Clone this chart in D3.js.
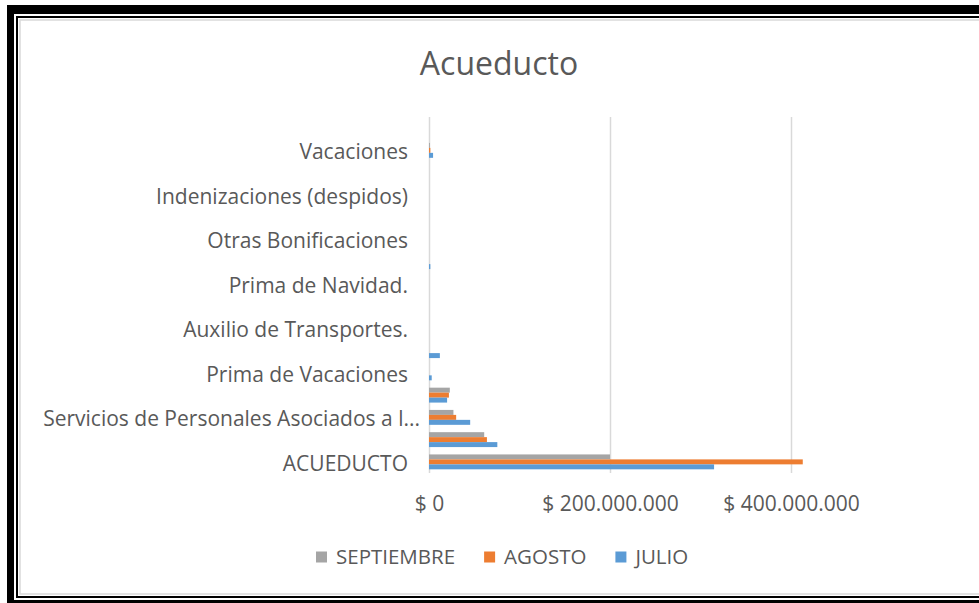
<!DOCTYPE html>
<html>
<head>
<meta charset="utf-8">
<script src="https://cdn.jsdelivr.net/npm/d3@7"></script>
<style>
    body { margin: 0; background: #fff; }
    svg text { font-family: "Open Sans", sans-serif; fill: #595959; }
</style>
</head>
<body>
<div id="chart"></div>
<script>
// categories from bottom to top, as Excel lists them
const categories = [
    "ACUEDUCTO",
    "Sueldos de Personal de Nómina",
    "Servicios de Personales Asociados a la Nómina",
    "Contribuciones Inherentes a la Nómina",
    "Prima de Vacaciones",
    "Prima de Servicios",
    "Auxilio de Transportes.",
    "Subsidio de Alimentación.",
    "Prima de Navidad.",
    "Horas Extras y Festivos",
    "Otras Bonificaciones",
    "Bonificación Especial de Recreación",
    "Indenizaciones (despidos)",
    "Indemnización por Vacaciones",
    "Vacaciones",
    "Otros"
]
const seriesNames = ["SEPTIEMBRE", "AGOSTO", "JULIO"]
const septiembre = [200e6, 61e6, 27e6, 23e6, 0, 0, 0, 0, 0, 0, 0, 0, 0, 0, 1e6, 0]
const agosto = [413e6, 64e6, 30e6, 22e6, 0, 0, 0, 0, 0, 0, 0, 0, 0, 0, 1.5e6, 0]
const julio = [315e6, 75.5e6, 45.5e6, 20e6, 3e6, 12e6, 0, 0, 0, 1.5e6, 0, 0, 0, 0, 4.5e6, 0]
const xTicks = [0, 200e6, 400e6]

const colors = {SEPTIEMBRE: "#a5a5a5", AGOSTO: "#ed7d31", JULIO: "#5b9bd5"}
const seriesValues = {SEPTIEMBRE: septiembre, AGOSTO: agosto, JULIO: julio}

const W = 979, H = 603
const plot = {left: 429, right: 791, top: 117, bottom: 473}

const svg = d3.select("#chart")
    .append("svg")
        .attr("width", W)
        .attr("height", H)

// frame: thick black, thin black, light gray
svg.append("rect").attr("x", 7).attr("y", 5).attr("width", W).attr("height", 9).attr("fill", "#000")
svg.append("rect").attr("x", 7).attr("y", 5).attr("width", 7).attr("height", H).attr("fill", "#000")
svg.append("rect").attr("x", 7).attr("y", 600).attr("width", W).attr("height", 3).attr("fill", "#000")
svg.append("rect")
    .attr("x", 17).attr("y", 17).attr("width", W).attr("height", 580)
    .attr("fill", "none").attr("stroke", "#000").attr("stroke-width", 2)
svg.append("rect")
    .attr("x", 20).attr("y", 20).attr("width", W).attr("height", 574)
    .attr("fill", "none").attr("stroke", "#d9d9d9").attr("stroke-width", 1.5)

const x = d3.scaleLinear()
    .domain([0, 400e6])
    .range([plot.left, plot.right])

const y = d3.scaleBand()
    .domain(categories)
    .range([plot.bottom, plot.top])
    .paddingInner(0.33)
    .paddingOuter(0.165)

const ySub = d3.scaleBand()
    .domain(seriesNames)
    .range([0, y.bandwidth()])

const money = d => "$ " + d3.format(",")(d).replace(/,/g, ".")

// gridlines
svg.append("g")
    .attr("transform", `translate(0,${plot.bottom})`)
    .call(d3.axisBottom(x).tickValues(xTicks).tickSize(-(plot.bottom - plot.top)).tickFormat(""))
    .call(g => g.select(".domain").remove())
    .call(g => g.selectAll("line").attr("stroke", "#d9d9d9").attr("stroke-width", 1.5))

// bars
const rows = categories.map((c, i) => ({cat: c, i}))
svg.append("g")
    .selectAll("g")
    .data(rows)
    .enter()
    .append("g")
        .attr("transform", d => `translate(0,${y(d.cat)})`)
        .selectAll("rect")
        .data(d => seriesNames.map(s => ({s, v: seriesValues[s][d.i]})))
        .enter()
        .append("rect")
            .attr("x", x(0))
            .attr("y", d => ySub(d.s))
            .attr("width", d => x(d.v) - x(0))
            .attr("height", ySub.bandwidth())
            .attr("fill", d => colors[d.s])

// x tick labels
svg.append("g")
    .attr("transform", `translate(0,${plot.bottom})`)
    .call(d3.axisBottom(x).tickValues(xTicks).tickSize(0).tickPadding(23).tickFormat(money))
    .call(g => g.select(".domain").remove())
    .call(g => g.selectAll("text").attr("font-size", 21).attr("font-family", null))

// category labels, every second one like Excel does
svg.append("g")
    .attr("transform", `translate(${plot.left},0)`)
    .call(d3.axisLeft(y).tickSize(0).tickPadding(21)
        .tickFormat((d, i) => i % 2 === 0 ? d : ""))
    .call(g => g.select(".domain").remove())
    .call(g => g.selectAll("text").attr("font-size", 21).attr("font-family", null).attr("dy", "0.42em"))
    .call(g => g.selectAll("text").each(function () {
        const t = d3.select(this)
        const maxW = 384
        let s = t.text()
        if (this.getComputedTextLength() <= maxW) return
        t.attr("dx", 12)
        while (s.length && this.getComputedTextLength() > maxW) {
            s = s.slice(0, -1)
            t.text(s.trimEnd() + "...")
        }
    }))

// title
svg.append("text")
    .attr("x", 499)
    .attr("y", 75)
    .attr("text-anchor", "middle")
    .attr("font-size", 32)
    .text("Acueducto")

// legend
const legend = svg.append("g").attr("transform", "translate(0,557)")
let lx = 316
seriesNames.forEach(s => {
    const item = legend.append("g").attr("transform", `translate(${lx},0)`)
    item.append("rect")
        .attr("x", 0).attr("y", -5.5)
        .attr("width", 11).attr("height", 11)
        .attr("fill", colors[s])
    const t = item.append("text")
        .attr("x", 20)
        .attr("y", 7)
        .attr("font-size", 20.5)
        .text(s)
    lx += 20 + t.node().getComputedTextLength() + 29
})
</script>
</body>
</html>
